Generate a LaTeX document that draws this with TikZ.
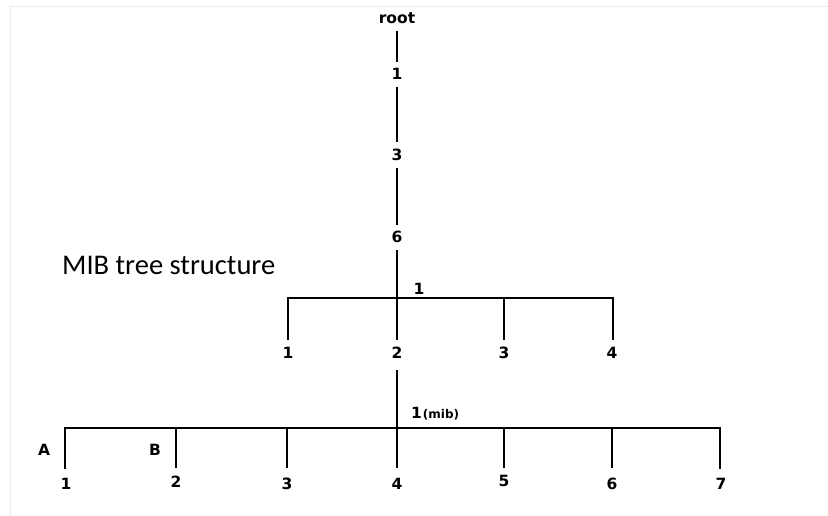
\documentclass[tikz,border=0pt]{standalone}
\usepackage{fontspec}
\setmainfont{DejaVu Sans}
\newfontfamily\titlefont{Carlito}
\begin{document}
\begin{tikzpicture}[x=1pt,y=-1pt,
  lbl/.style={font=\bfseries\fontsize{15.5}{17}\selectfont, inner sep=1pt},
  edge/.style={line width=2.4pt, line cap=butt}]
\useasboundingbox (0,0) rectangle (828,515);
\fill[white] (0,0) rectangle (828,515);
\draw[gray!15, line width=1pt] (10,520) -- (10,6) -- (828,6);
% top chain
\node[lbl] (root) at (397,18) {root};
\node[lbl] (n1) at (397,74) {1};
\node[lbl] (n3) at (397,155) {3};
\node[lbl] (n6) at (397,237) {6};
\coordinate (j1) at (397,298);
\draw[edge] (root.south |- 0,31) -- (397,62);
\draw[edge] (397,87) -- (397,142);
\draw[edge] (397,168) -- (397,225);
\draw[edge] (397,250) -- (j1);
% first bar
\node[lbl] (b1) at (288,353) {1};
\node[lbl] (b2) at (397,353) {2};
\node[lbl] (b3) at (504,353) {3};
\node[lbl] (b4) at (612,353) {4};
\node[lbl] (l1) at (419,289) {1};
\draw[edge] (288,340) -- (288,298) -- (613,298) -- (613,340);
\draw[edge] (j1) -- (397,340);
\draw[edge] (504,298) -- (504,340);
% second bar
\coordinate (j2) at (397,428);
\draw[edge] (397,370) -- (j2);
\node[lbl, anchor=west] (mib) at (410,414) {1\kern1pt{\fontsize{12}{13}\selectfont(mib)}};
\draw[edge] (65,469) -- (65,428) -- (720,428) -- (720,469);
\foreach \x in {176,287,397,504,612} {\draw[edge] (\x,428) -- (\x,468);}
\node[lbl] (c1) at (66,484) {1};
\node[lbl] (c2) at (176,482) {2};
\node[lbl] (c3) at (287,484) {3};
\node[lbl] (c4) at (397,484) {4};
\node[lbl] (c5) at (504,481) {5};
\node[lbl] (c6) at (612,484) {6};
\node[lbl] (c7) at (721,484) {7};
\node[lbl] (A) at (44,450) {A};
\node[lbl] (B) at (155,450) {B};
% title
\node[anchor=west, inner sep=0pt, font=\titlefont\fontsize{28.5}{32}\selectfont] (title) at (62,265) {MIB tree structure};
\end{tikzpicture}
\end{document}
